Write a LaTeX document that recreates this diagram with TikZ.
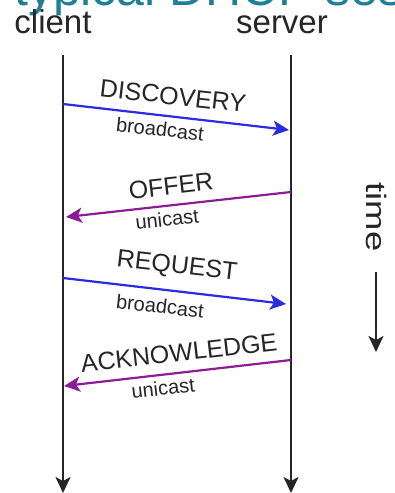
\documentclass[tikz,border=0pt]{standalone}
\usepackage{fontspec}
\setmainfont{Liberation Sans}
\usetikzlibrary{arrows.meta}
\definecolor{msgblue}{HTML}{2B2BE0}
\definecolor{msgpurple}{HTML}{8C1C96}
\definecolor{linegray}{HTML}{262626}
\definecolor{titleteal}{HTML}{1E7F98}
\tikzset{
  x=1pt, y=-1pt,
  tip/.tip={Stealth[length=16pt,width=15pt,inset=4pt]},
  lifeline/.style={draw=linegray, line width=2.2pt, -{tip}},
  msg/.style={line width=2.2pt, -{tip}},
  actor/.style={font=\fontsize{33}{36}\selectfont, text=linegray, inner sep=0pt},
  msgname/.style={font=\fontsize{25}{28}\selectfont, text=linegray, inner sep=0pt},
  msgkind/.style={font=\fontsize{20}{22}\selectfont, text=linegray, inner sep=0pt},
}
\begin{document}
\begin{tikzpicture}
  \path[use as bounding box, clip] (0,0) rectangle (395,493);
  \fill[white] (0,0) rectangle (395,493);

  % heading, running off the top edge
  \node[anchor=base west, inner sep=0pt, text=titleteal,
        font=\fontsize{50}{54}\selectfont] (title) at (14,5) {typical DHCP session};

  % participants
  \node[actor, anchor=base] (client) at (53,33) {client};
  \node[actor, anchor=base] (server) at (282,33) {server};

  \coordinate (c0) at (63,55);
  \coordinate (c1) at (63,493);
  \coordinate (s0) at (291,55);
  \coordinate (s1) at (291,493);
  \draw[lifeline] (c0) -- (c1);
  \draw[lifeline] (s0) -- (s1);

  % messages
  \coordinate (d0) at (63,104);  \coordinate (d1) at (289,130);
  \coordinate (o0) at (291,192); \coordinate (o1) at (66,217);
  \coordinate (r0) at (63,278);  \coordinate (r1) at (286,304);
  \coordinate (a0) at (291,360); \coordinate (a1) at (64,386);

  \draw[msg, msgblue] (d0) -- (d1);
  \draw[msg, msgpurple] (o0) -- (o1);
  \draw[msg, msgblue] (r0) -- (r1);
  \draw[msg, msgpurple] (a0) -- (a1);

  \node[msgname, rotate=-6.5] (discovery) at (173,96) {DISCOVERY};
  \node[msgkind, rotate=-6.5] (dkind) at (160,129) {broadcast};
  \node[msgname, rotate=6.5] (offer) at (171,186) {OFFER};
  \node[msgkind, rotate=6.5] (okind) at (167,219) {unicast};
  \node[msgname, rotate=-6.5] (request) at (177,267) {REQUEST};
  \node[msgkind, rotate=-6.5] (rkind) at (160,306) {broadcast};
  \node[msgname, rotate=6.5] (ack) at (179,353) {ACKNOWLEDGE};
  \node[msgkind, rotate=6.5] (akind) at (163,388) {unicast};

  % time axis
  \node[actor, rotate=-90] (time) at (377,217)
    {\fontsize{28}{30}\selectfont\scalebox{1.3}[1]{time}};
  \coordinate (t0) at (376,272);
  \coordinate (t1) at (376,352);
  \draw[lifeline] (t0) -- (t1);
\end{tikzpicture}
\end{document}
